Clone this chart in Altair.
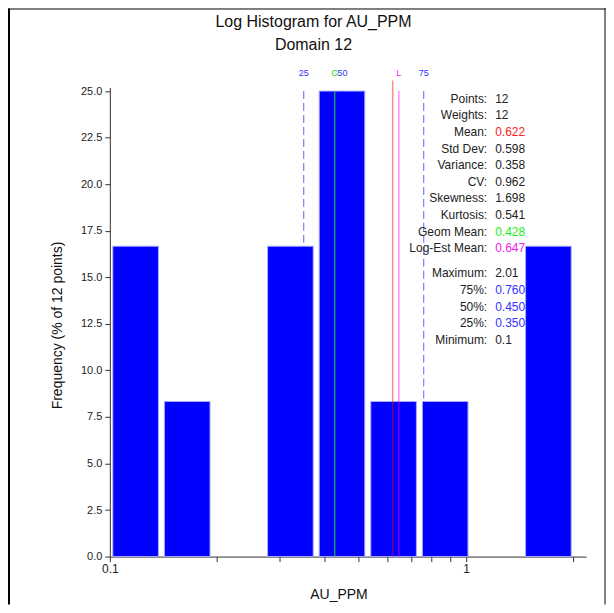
import altair as alt
import pandas as pd

# ---- histogram data (log-spaced bins between min 0.1 and max 2.01) ----
bin_lo = [0.1, 0.13957, 0.19480, 0.27189, 0.37949, 0.52966, 0.73927, 1.0318, 1.4401]
bin_hi = [0.13957, 0.19480, 0.27189, 0.37949, 0.52966, 0.73927, 1.0318, 1.4401, 2.01]
freq = [16.67, 8.33, 0.0, 16.67, 25.0, 8.33, 8.33, 0.0, 16.67]

# ---- marker lines ----
marker_labels = ["25", "G", "50", "L", "75"]
marker_values = [0.350, 0.428, 0.450, 0.647, 0.760]
marker_colors = ["#3333ff", "#22dd22", "#3333ff", "#ff22ff", "#3333ff"]
mean_value = 0.622

# ---- statistics panel ----
stat_labels = ["Points:", "Weights:", "Mean:", "Std Dev:", "Variance:", "CV:",
               "Skewness:", "Kurtosis:", "Geom Mean:", "Log-Est Mean:",
               "Maximum:", "75%:", "50%:", "25%:", "Minimum:"]
stat_values = ["12", "12", "0.622", "0.598", "0.358", "0.962", "1.698", "0.541",
               "0.428", "0.647", "2.01", "0.760", "0.450", "0.350", "0.1"]
stat_colors = ["#222222", "#222222", "#ff2020", "#222222", "#222222", "#222222",
               "#222222", "#222222", "#22ee22", "#ee22ee", "#222222", "#3333ff",
               "#3333ff", "#3333ff", "#222222"]
stat_rows = [0, 1, 2, 3, 4, 5, 6, 7, 8, 9, 10.5, 11.5, 12.5, 13.5, 14.5]

title_lines = ["Log Histogram for AU_PPM", "Domain 12"]

W, H = 477, 470
FONT = "Liberation Sans"

hist = pd.DataFrame({"lo": bin_lo, "hi": bin_hi, "freq": freq})
hist = hist[hist["freq"] > 0]
markers = pd.DataFrame({"label": marker_labels, "value": marker_values,
                        "color": marker_colors, "top": [25.0] * 5})
stats = pd.DataFrame({"label": stat_labels, "value": stat_values,
                      "color": stat_colors, "row": stat_rows})

xscale = alt.Scale(type="log", domain=[0.1, 2.17], nice=False)
yscale = alt.Scale(domain=[0, 25.2], nice=False, zero=True)

xaxis = alt.Axis(
    values=[0.1, 0.2, 0.3, 0.4, 0.5, 0.6, 0.7, 0.8, 0.9, 1, 2],
    labelExpr="datum.value == 0.1 ? '0.1' : (datum.value == 1 ? '1' : '')",
    tickSize=5, grid=False, labelFontSize=12, labelFont=FONT, labelColor="#222",
    domainColor="#333", tickColor="#333", labelPadding=2, labelFlush=False,
    title="AU_PPM", titleFont=FONT, titleFontSize=14, titleFontWeight="normal",
    titleColor="#111", titleX=229, titleY=38, titleBaseline="middle",
)
yaxis = alt.Axis(
    values=[0, 2.5, 5, 7.5, 10, 12.5, 15, 17.5, 20, 22.5, 25],
    format=".1f", tickSize=5, grid=False, labelFontSize=11, labelFont=FONT,
    labelColor="#222", domainColor="#333", tickColor="#333", labelPadding=3,
    labelFlush=False,
    title="Frequency (% of 12 points)", titleFont=FONT, titleFontSize=14,
    titleFontWeight="normal", titleColor="#111", titleAngle=-90,
    titleX=-52, titleY=238, titleBaseline="middle", titleAlign="center",
)

bars = alt.Chart(hist).mark_bar(
    color="#0000ff", stroke="#aaaaff", strokeWidth=1, xOffset=3, x2Offset=-3
).encode(
    x=alt.X("lo:Q", scale=xscale, axis=xaxis),
    x2="hi:Q",
    y=alt.Y("freq:Q", scale=yscale, axis=yaxis),
    y2=alt.datum(0),
)

dashed = alt.Chart(markers[markers["label"].isin(["25", "50", "75"])]).mark_rule(
    color="#0000ff", opacity=0.5, strokeWidth=1.2, strokeDash=[8, 4]
).encode(x="value:Q", y="top:Q", y2=alt.datum(0))

geom = alt.Chart(markers[markers["label"] == "G"]).mark_rule(
    color="#22dd22", strokeWidth=1
).encode(x="value:Q", y="top:Q", y2=alt.datum(0))

logest = alt.Chart(markers[markers["label"] == "L"]).mark_rule(
    color="#ff00ff", opacity=0.45, strokeWidth=1.5
).encode(x="value:Q", y="top:Q", y2=alt.datum(0))

mean_rule = alt.Chart(pd.DataFrame({"value": [mean_value]})).mark_rule(
    color="#ff0000", opacity=0.45, strokeWidth=1.5
).encode(x="value:Q", y=alt.value(-7), y2=alt.value(H))

marker_text = alt.Chart(markers).mark_text(
    font=FONT, fontSize=9, baseline="middle", align="center"
).encode(
    x="value:Q", y=alt.value(-14), text="label:N",
    color=alt.Color("color:N", scale=None),
)

main = alt.layer(bars, dashed, geom, logest, mean_rule, marker_text)

ys = alt.Y("row:Q", scale=alt.Scale(domain=[0, 14.5], range=[11.3, 253.0]), axis=None)
stat_lab = alt.Chart(stats).mark_text(
    font=FONT, fontSize=12, align="right", baseline="middle", color="#222"
).encode(x=alt.value(378), y=ys, text="label:N")
stat_val = alt.Chart(stats).mark_text(
    font=FONT, fontSize=12, align="left", baseline="middle"
).encode(x=alt.value(386), y=ys, text="value:N",
         color=alt.Color("color:N", scale=None))

t1 = alt.Chart(pd.DataFrame({"t": [title_lines[0]]})).mark_text(
    font=FONT, fontSize=16, align="center", baseline="middle", color="#111"
).encode(x=alt.value(204), y=alt.value(-65), text="t:N")
t2 = alt.Chart(pd.DataFrame({"t": [title_lines[1]]})).mark_text(
    font=FONT, fontSize=16, align="center", baseline="middle", color="#111"
).encode(x=alt.value(204), y=alt.value(-42), text="t:N")

frame = alt.Chart(pd.DataFrame({"k": [0]})).mark_rule(color="#000", strokeWidth=2).encode(
    x=alt.value(-101), y=alt.value(-79), y2=alt.value(H + 48)
)
frame_r = alt.Chart(pd.DataFrame({"k": [0]})).mark_rule(color="#000", strokeWidth=1).encode(
    x=alt.value(W + 19), y=alt.value(-79), y2=alt.value(H + 48)
)
frame_t = alt.Chart(pd.DataFrame({"k": [0]})).mark_rule(color="#000", strokeWidth=1).encode(
    x=alt.value(-102), x2=alt.value(W + 20), y=alt.value(-78.5)
)

chart = alt.layer(
    main, alt.layer(stat_lab, stat_val), alt.layer(t1, t2, frame, frame_r, frame_t)
).resolve_scale(
    y="independent", x="independent"
).properties(
    width=W, height=H,
    autosize=alt.AutoSizeParams(type="none"),
    padding={"left": 102, "top": 79, "right": 20, "bottom": 48},
).configure_view(stroke=None)

chart.save("out.html", embed_options={"renderer": "svg", "actions": False})
